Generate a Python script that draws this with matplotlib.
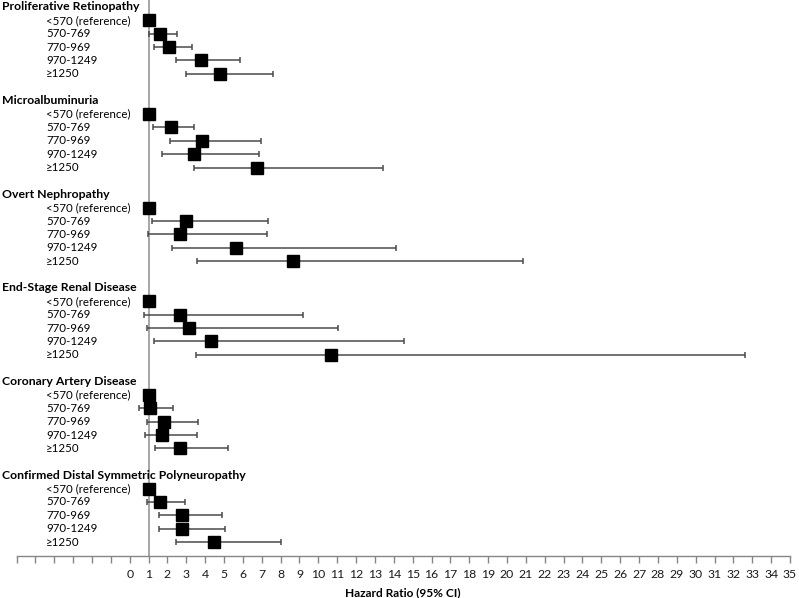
import matplotlib
matplotlib.use("Agg")
import matplotlib.pyplot as plt
import numpy as np

plt.rcParams['font.family'] = ['Lato', 'DejaVu Sans']

groups = ['Proliferative Retinopathy', 'Microalbuminuria', 'Overt Nephropathy',
          'End-Stage Renal Disease', 'Coronary Artery Disease',
          'Confirmed Distal Symmetric Polyneuropathy']
categories = ['<570 (reference)', '570-769', '770-969', '970-1249', '\u22651250']

hr = [
    [1.0, 1.59, 2.06, 3.76, 4.77],
    [1.0, 2.20, 3.85, 3.41, 6.75],
    [1.0, 2.96, 2.66, 5.65, 8.65],
    [1.0, 2.65, 3.14, 4.29, 10.67],
    [1.0, 1.06, 1.82, 1.73, 2.68],
    [1.0, 1.62, 2.77, 2.79, 4.45],
]
ci_low = [
    [1.0, 1.02, 1.29, 2.47, 3.00],
    [1.0, 1.23, 2.12, 1.69, 3.39],
    [1.0, 1.18, 0.98, 2.24, 3.58],
    [1.0, 0.75, 0.90, 1.29, 3.49],
    [1.0, 0.49, 0.91, 0.83, 1.34],
    [1.0, 0.91, 1.57, 1.53, 2.47],
]
ci_high = [
    [1.0, 2.50, 3.28, 5.83, 7.59],
    [1.0, 3.41, 6.96, 6.87, 13.43],
    [1.0, 7.35, 7.26, 14.11, 20.85],
    [1.0, 9.19, 11.04, 14.54, 32.62],
    [1.0, 2.28, 3.62, 3.57, 5.23],
    [1.0, 2.93, 4.89, 5.05, 8.00],
]
tick_values = list(range(0, 36))

W, H = 799, 598
fig = plt.figure(figsize=(W / 100, H / 100), dpi=100)
ax_left, ax_right = 16.5 / W, 790 / W
ax_bottom, ax_top = 1 - 555.5 / H, 1.0
ax = fig.add_axes([ax_left, ax_bottom, ax_right - ax_left, ax_top - ax_bottom])

n_rows = 7 * len(groups) - 1
ax.set_xlim(-6, 35)
ax.set_ylim(n_rows, -0.52)

ax.axvline(1, color='#a6a6a6', lw=1.4, zorder=1)

ytr = ax.get_yaxis_transform()
for g, name in enumerate(groups):
    base = 7 * g
    ax.text(-0.0185, base, name, transform=ytr, ha='left', va='center',
            fontsize=8.8, fontweight='bold', clip_on=False)
    ys = np.arange(base + 1, base + 6)
    x = np.array(hr[g])
    lo = np.array(ci_low[g])
    hi = np.array(ci_high[g])
    for i, cat in enumerate(categories):
        ax.text(0.038, ys[i], cat, transform=ytr, ha='left', va='center',
                fontsize=8.3, clip_on=False)
    ax.errorbar(x, ys, xerr=[x - lo, hi - x], fmt='none', ecolor='#4a4a4a',
                elinewidth=1.1, capsize=2.3, capthick=1.1, zorder=2)
    ax.plot(x, ys, 's', color='black', markersize=8.2, zorder=3)

for s in ['top', 'right', 'left']:
    ax.spines[s].set_visible(False)
ax.spines['bottom'].set_color('#868686')
ax.spines['bottom'].set_linewidth(1.0)
ax.set_yticks([])

ax.set_xticks(np.arange(-6, 36, 1))
ax.set_xticklabels([''] * 6 + [str(v) for v in tick_values])
ax.tick_params(axis='x', length=5, width=1.0, color='#868686', labelsize=8.8,
               labelcolor='#1a1a1a', pad=5)
ax.set_xlabel('Hazard Ratio (95% CI)', fontsize=8.6, fontweight='bold', labelpad=5)

fig.savefig('out.png', dpi=100)
